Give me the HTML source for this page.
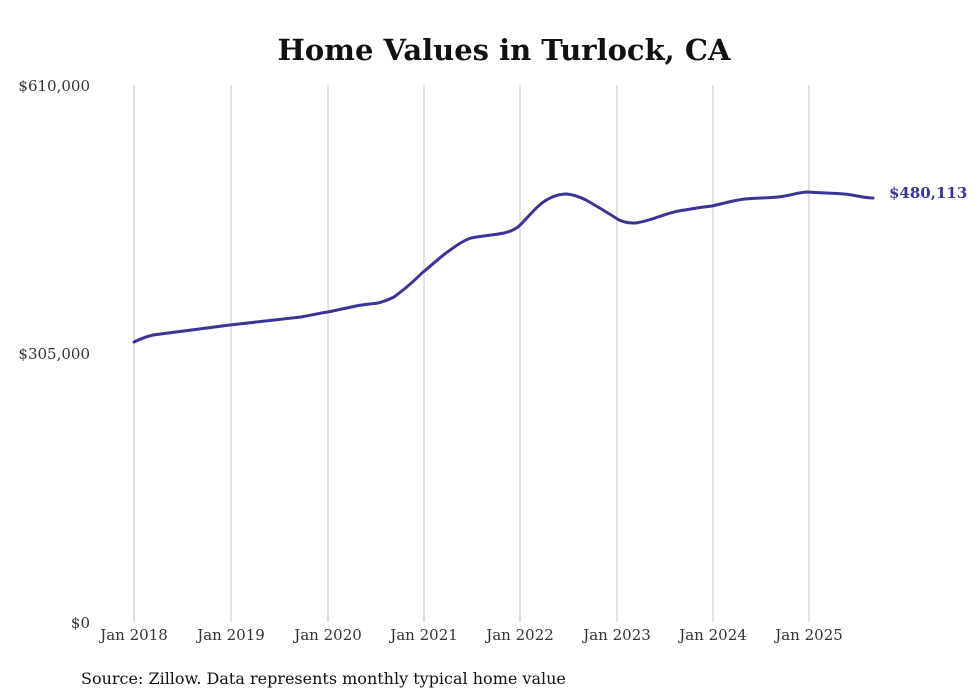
<!DOCTYPE html>
<html><head><meta charset="utf-8"><style>
body{margin:0;background:#fff;}
svg{display:block;font-family:"DejaVu Serif","Liberation Serif",serif;}
</style></head><body>
<svg width="980" height="699" viewBox="0 0 980 699">
<text x="504" y="60" text-anchor="middle" font-size="29" font-weight="bold" fill="#111">Home Values in Turlock, CA</text>
<g stroke="#c4c4c4" stroke-width="1">
<line x1="134" y1="85" x2="134" y2="622"/><line x1="231" y1="85" x2="231" y2="622"/>
<line x1="328" y1="85" x2="328" y2="622"/><line x1="424" y1="85" x2="424" y2="622"/>
<line x1="520" y1="85" x2="520" y2="622"/><line x1="617" y1="85" x2="617" y2="622"/>
<line x1="713" y1="85" x2="713" y2="622"/><line x1="809" y1="85" x2="809" y2="622"/>
</g>
<g font-size="15" fill="#333" text-anchor="end">
<text x="90" y="91">$610,000</text>
<text x="90" y="359">$305,000</text>
<text x="90" y="628">$0</text>
</g>
<g font-size="15" fill="#333" text-anchor="middle">
<text x="134" y="640">Jan 2018</text><text x="231" y="640">Jan 2019</text>
<text x="328" y="640">Jan 2020</text><text x="424" y="640">Jan 2021</text>
<text x="520" y="640">Jan 2022</text><text x="617" y="640">Jan 2023</text>
<text x="713" y="640">Jan 2024</text><text x="809" y="640">Jan 2025</text>
</g>
<path fill="none" stroke="#3a3495" stroke-width="3" stroke-linecap="round"
d="M134,342 C140,339 145,337 153,335 L230,325 L301,317 C312,315 320,313 328,312 L356,306 C366,304 372,304 378,303 C386,301 390,299 394,297 C405,289 414,281 422,273 C432,265 438,259 446,253 C456,246 462,241 471,238 C480,236 495,235 504,233 C512,231 515,229 518,227 C527,219 533,210 542,203 C550,197 558,194 567,194 C575,195 580,197 586,200 C600,208 608,213 619,220 C626,223 630,223 636,223 C642,222 646,221 652,219 C664,215 675,211 685,210 C695,208 704,207 712,206 C725,203 735,200 745,199 C756,198 767,198 778,197 C790,196 798,192 808,192 C820,193 833,193 844,194 C856,195 863,198 873,198"/>
<text x="889" y="198" font-size="15" font-weight="bold" fill="#3a3495">$480,113</text>
<text x="81" y="684" font-size="16" fill="#111">Source: Zillow. Data represents monthly typical home value</text>
</svg>
</body></html>
